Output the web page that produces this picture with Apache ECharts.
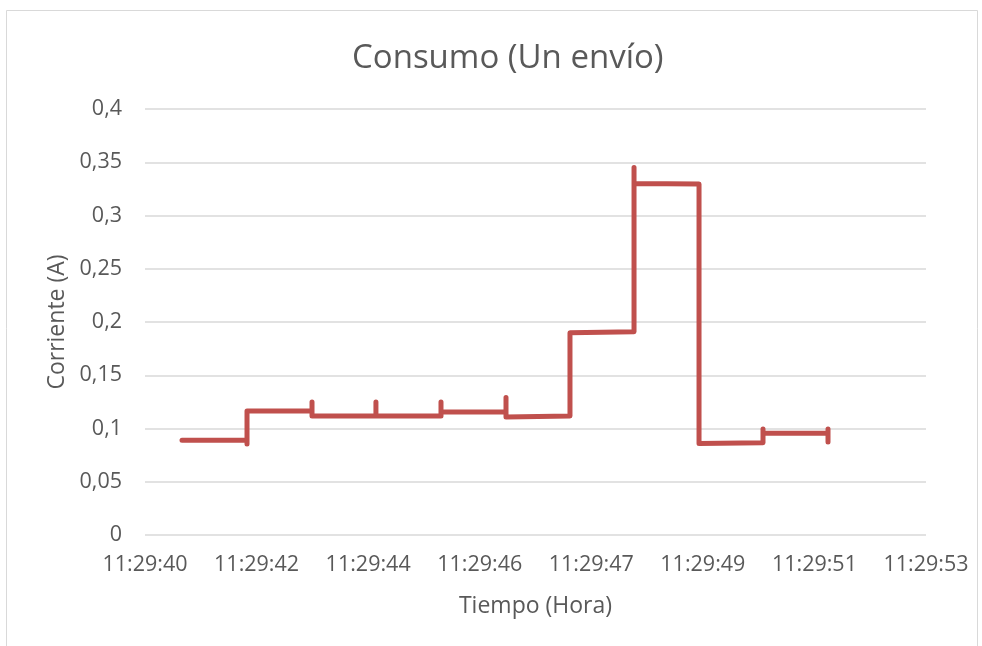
<!DOCTYPE html>
<html>
<head>
<meta charset="utf-8">
<title>Consumo (Un envío)</title>
<script src="https://cdn.jsdelivr.net/npm/echarts@6/dist/echarts.min.js"></script>
<style>
  html, body { margin: 0; padding: 0; background: #ffffff; }
  #chart { width: 982px; height: 646px; }
</style>
</head>
<body>
<div id="chart"></div>
<script>
// Time axis labels (one per major tick, 13 s span split in 7 steps)
const tickLabels = ['11:29:40', '11:29:42', '11:29:44', '11:29:46', '11:29:47', '11:29:49', '11:29:51', '11:29:53'];
const axisSpanSec = 13;          // 11:29:40 .. 11:29:53
const axisSteps = tickLabels.length - 1;

// Readings: seconds after 11:29:40 and measured current (A)
const tiempoSeg = [
  0.616, 1.698, 1.698, 1.698,
  2.780, 2.780, 2.780,
  3.844, 3.844, 3.844,
  4.927, 4.927, 4.927,
  6.009, 6.009, 6.009,
  7.074, 7.074,
  8.140, 8.140, 8.140,
  9.222, 9.222,
  10.287, 10.287, 10.287,
  11.369, 11.369, 11.369
];
const corriente = [
  0.089, 0.089, 0.0855, 0.1165,
  0.1165, 0.125, 0.1117,
  0.1117, 0.125, 0.1117,
  0.1117, 0.125, 0.1155,
  0.1155, 0.129, 0.1108,
  0.1117, 0.190,
  0.1909, 0.345, 0.330,
  0.3295, 0.086,
  0.0867, 0.0995, 0.0955,
  0.0955, 0.0995, 0.0873
];

const yTicks = { min: 0, max: 0.4, step: 0.05 };

// x positions expressed in tick steps so labels sit on whole numbers
const puntos = tiempoSeg.map((t, i) => [t * axisSteps / axisSpanSec, corriente[i]]);

const FONT = '"Open Sans", "Noto Sans", sans-serif';
const TEXT = '#595959';

const chart = echarts.init(document.getElementById('chart'), null, { renderer: 'canvas' });
chart.setOption({
  backgroundColor: '#ffffff',
  animation: false,
  title: {
    text: 'Consumo (Un envío)',
    left: 347,
    top: 37,
    textStyle: { fontFamily: FONT, fontSize: 33, fontWeight: 'normal', color: TEXT }
  },
  graphic: [{
    type: 'rect',
    shape: { x: 6.5, y: 10.5, width: 971, height: 660 },
    style: { fill: 'none', stroke: '#d9d9d9', lineWidth: 1 },
    silent: true
  }],
  grid: { left: 145, right: 56, top: 109, bottom: 111, containLabel: false },
  xAxis: {
    type: 'value',
    min: 0,
    max: axisSteps,
    interval: 1,
    name: 'Tiempo (Hora)',
    nameLocation: 'middle',
    nameGap: 60,
    nameTextStyle: { fontFamily: FONT, fontSize: 23, color: TEXT },
    axisLine: { show: false },
    axisTick: { show: false },
    splitLine: { show: false },
    axisLabel: {
      margin: 19,
      fontFamily: FONT, fontSize: 21.5, color: TEXT,
      formatter: v => tickLabels[Math.round(v)] || ''
    }
  },
  yAxis: {
    type: 'value',
    min: yTicks.min,
    max: yTicks.max,
    interval: yTicks.step,
    name: 'Corriente (A)',
    nameLocation: 'middle',
    nameGap: 75,
    nameRotate: 90,
    nameTextStyle: { fontFamily: FONT, fontSize: 23, color: TEXT },
    axisLine: { show: false },
    axisTick: { show: false },
    splitLine: { show: true, lineStyle: { color: '#d9d9d9', width: 1.5 } },
    axisLabel: {
      margin: 23,
      fontFamily: FONT, fontSize: 21.5, color: TEXT,
      formatter: v => String(Math.round(v * 100) / 100).replace('.', ',')
    }
  },
  series: [{
    type: 'line',
    data: puntos,
    showSymbol: false,
    symbol: 'none',
    lineStyle: { color: '#c0504d', width: 5, cap: 'round', join: 'round' },
    itemStyle: { color: '#c0504d' }
  }]
});
</script>
</body>
</html>
